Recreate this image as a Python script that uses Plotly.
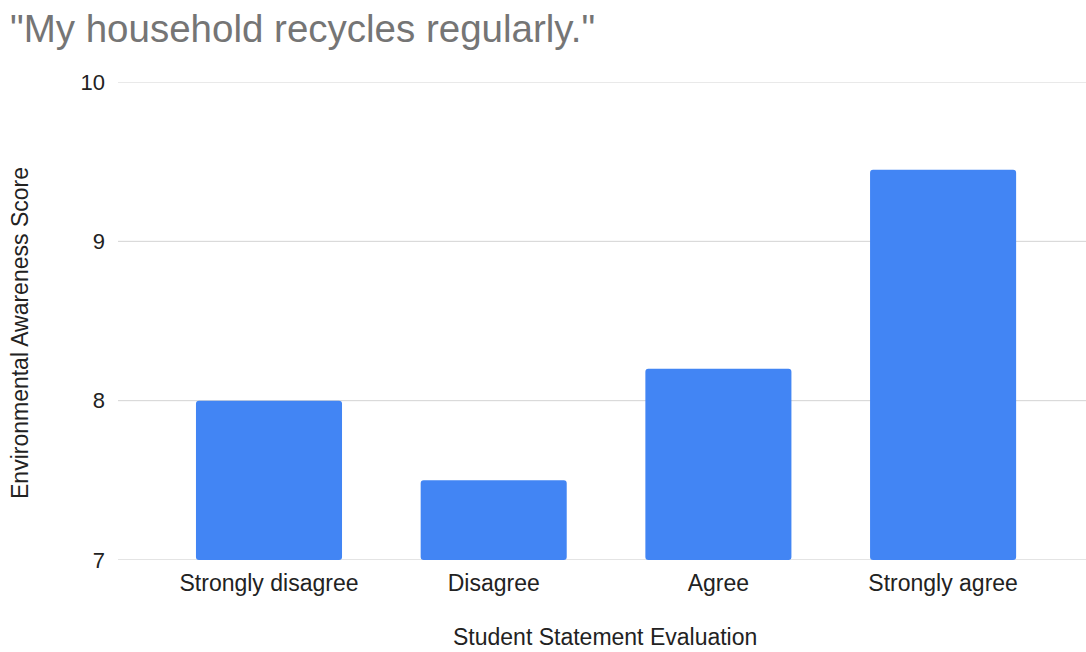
import plotly.graph_objects as go

categories = ["Strongly disagree", "Disagree", "Agree", "Strongly agree"]
scores = [8.0, 7.5, 8.2, 9.45]
y_ticks = [7, 8, 9, 10]
title_text = '"My household recycles regularly."'
x_title = "Student Statement Evaluation"
y_title = "Environmental Awareness Score"

FONT = "Liberation Sans, Arial, sans-serif"
BASE = y_ticks[0]

fig = go.Figure(
    go.Bar(
        x=list(range(len(categories))),
        y=[s - BASE for s in scores],
        base=BASE,
        width=0.65,
        marker=dict(color="#4285F4", cornerradius=3, line=dict(width=0)),
        hovertemplate="%{customdata}<extra></extra>",
        customdata=scores,
    )
)

# horizontal gridlines at every tick (incl. range edges, which plotly omits)
for t in y_ticks:
    fig.add_shape(
        type="line", xref="paper", yref="y", x0=0, x1=1, y0=t, y1=t,
        line=dict(color="#d3d3d3" if t != BASE else "#c8c8c8", width=1),
        layer="below",
    )

fig.update_layout(
    width=1086,
    height=652,
    margin=dict(l=118, r=0, t=82, b=92),
    paper_bgcolor="white",
    plot_bgcolor="white",
    showlegend=False,
    font=dict(family=FONT, color="#222222", size=23),
    title=dict(
        text=title_text,
        x=10 / 1086,
        xanchor="left",
        xref="container",
        y=1 - 29 / 652,
        yanchor="middle",
        yref="container",
        font=dict(family=FONT, size=38.5, color="#757575"),
    ),
    xaxis=dict(
        range=[-0.672, 3.636],
        tickmode="array",
        tickvals=list(range(len(categories))),
        ticktext=categories,
        showgrid=False,
        zeroline=False,
        showline=False,
        ticks="",
        ticklabelstandoff=7,
        tickfont=dict(size=23, color="#222222"),
    ),
    yaxis=dict(
        range=[BASE, y_ticks[-1]],
        tickmode="array",
        tickvals=y_ticks,
        ticktext=[str(t) for t in y_ticks],
        showgrid=False,
        zeroline=False,
        showline=False,
        ticks="",
        ticklabelstandoff=12,
        tickfont=dict(size=22, color="#222222"),
    ),
    annotations=[
        dict(
            text=x_title, xref="paper", yref="paper",
            x=(605 - 118) / 968, y=(560 - 637) / 478,
            xanchor="center", yanchor="middle", showarrow=False,
            font=dict(family=FONT, size=23, color="#222222"),
        ),
        dict(
            text=y_title, xref="paper", yref="paper",
            x=(20 - 118) / 968, y=(560 - 333) / 478, textangle=-90,
            xanchor="center", yanchor="middle", showarrow=False,
            font=dict(family=FONT, size=23, color="#222222"),
        ),
    ],
)

fig.write_html("out.html")
